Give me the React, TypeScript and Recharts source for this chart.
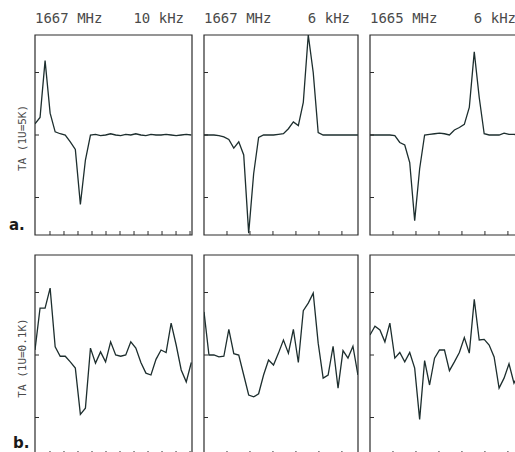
import { LineChart, Line, XAxis, YAxis, ReferenceArea } from 'recharts';

// Spectra, one value per channel, in units of the axis tick (1U)
const oh1667Wide = [
  0.18, 0.28, 1.19, 0.35, 0.05, 0.02, 0.0, -0.11, -0.23, -1.11, -0.4, 0.0, 0.01, -0.01, 0.0, 0.02,
  0.0, -0.01, 0.01, 0.0, 0.02, 0.0, -0.01, 0.01, 0.0, 0.0, 0.01, 0.0, -0.01, 0.0, 0.01, 0.0,
];
const oh1667 = [
  0, 0, 0, -0.01, -0.03, -0.07, -0.21, -0.11, -0.32, -1.57, -0.62, -0.04, 0, 0, 0, 0.01,
  0.02, 0.1, 0.21, 0.15, 0.52, 1.6, 1.0, 0.04, 0, 0, 0, 0, 0, 0, 0, 0,
];
const oh1665 = [
  0, 0, 0, 0, 0, -0.01, -0.12, -0.16, -0.44, -1.37, -0.54, 0, 0.01, 0.02, 0.03, 0.02,
  0, 0.08, 0.12, 0.17, 0.44, 1.33, 0.6, 0.02, 0, 0, 0, 0.03, 0.01, 0.01, 0, 0,
];
const weak1667Wide = [
  0.08, 0.75, 0.75, 1.07, 0.13, -0.02, -0.02, -0.11, -0.21, -0.95, -0.85, 0.11, -0.13, 0.05, -0.11, 0.21,
  0, -0.02, 0, 0.21, 0.11, -0.12, -0.29, -0.32, -0.07, 0.08, 0.04, 0.51, 0.16, -0.24, -0.43, -0.12,
];
const weak1667 = [
  0.69, 0, 0, -0.03, -0.02, 0.41, 0.02, 0, -0.32, -0.64, -0.67, -0.62, -0.32, -0.08, -0.16, 0.03,
  0.24, 0.03, 0.41, -0.12, 0.71, 0.83, 0.99, 0.19, -0.37, -0.32, 0.14, -0.53, 0.07, -0.05, 0.14, -0.32,
];
const weak1665 = [
  0.32, 0.46, 0.4, 0.21, 0.51, -0.05, 0.04, -0.11, 0.04, -0.21, -1.03, -0.09, -0.48, -0.05, 0.08, 0.08,
  -0.25, -0.11, 0.04, 0.28, 0.03, 0.89, 0.24, 0.25, 0.16, -0.03, -0.53, -0.37, -0.14, -0.45, -0.3, -0.2,
];

const titles = [
  ['1667 MHz', '10 kHz'],
  ['1667 MHz', '6 kHz'],
  ['1665 MHz', '6 kHz'],
];
const rowLabels = ['a.', 'b.'];
const unitLabels = ['TA (1U=5K)', 'TA (1U=0.1K)'];

const wideTicks = [0, 1, 2, 3, 4, 5, 6, 7, 8, 9, 10];
const narrowTicks = [1, 2, 3, 4, 5, 6];
const yTicks = [-1, 0, 1];

// channel grids for the two resolutions
const WIDE = { start: -1.07, step: 0.36, domain: [-1.07, 10.14], ticks: wideTicks };
const NARROW = { start: 0, step: 0.216, domain: [0, 6.7], ticks: narrowTicks };
const Y_DOMAIN: [number, number] = [-1.6, 1.6];

const LINE = '#1d2e2e';
const FRAME = '#2c2c2c';
const TEXT = '#4a4a4a';

type Grid = typeof WIDE;

const blank = () => '';

function Panel({ values, grid, left, top, width }: { values: number[]; grid: Grid; left: number; top: number; width: number }) {
  const data = values.map((y, i) => ({ x: grid.start + i * grid.step, y }));
  const [x1, x2] = grid.domain;
  return (
    <div style={{ position: 'absolute', left: left - 2, top: top - 2 }}>
      <LineChart width={width + 4} height={204} data={data} margin={{ top: 2, right: 2, bottom: 2, left: 2 }}>
        <XAxis
          type="number"
          dataKey="x"
          domain={grid.domain}
          ticks={grid.ticks}
          interval={0}
          allowDataOverflow
          mirror
          tickSize={4}
          axisLine={false}
          stroke={FRAME}
          tickLine={{ stroke: FRAME, strokeWidth: 1 }}
          tickFormatter={blank}
        />
        <YAxis
          type="number"
          domain={Y_DOMAIN}
          ticks={yTicks}
          interval={0}
          allowDataOverflow
          mirror
          tickSize={4}
          axisLine={false}
          stroke={FRAME}
          tickLine={{ stroke: FRAME, strokeWidth: 1 }}
          tickFormatter={blank}
        />
        <ReferenceArea x1={x1} x2={x2} y1={Y_DOMAIN[0]} y2={Y_DOMAIN[1]} fill="none" stroke={FRAME} strokeWidth={1.2} />
        <Line type="linear" dataKey="y" stroke={LINE} strokeWidth={1.3} dot={false} isAnimationActive={false} />
      </LineChart>
    </div>
  );
}

const cols = [
  { left: 35, width: 157, grid: WIDE },
  { left: 204, width: 154, grid: NARROW },
  { left: 370, width: 154, grid: NARROW },
];
const rows = [
  { top: 35, series: [oh1667Wide, oh1667, oh1665] },
  { top: 255, series: [weak1667Wide, weak1667, weak1665] },
];

export default function App() {
  return (
    <div style={{ position: 'absolute', left: 0, top: 0, width: 515, height: 452, overflow: 'hidden', background: '#fff' }}>
      {rows.map((row, r) =>
        cols.map((col, c) => (
          <Panel key={`${r}-${c}`} values={row.series[c]} grid={col.grid} left={col.left} top={row.top} width={col.width} />
        ))
      )}
      <svg width={515} height={452} style={{ position: 'absolute', left: 0, top: 0, pointerEvents: 'none' }}>
        {/* panel headers */}
        {cols.map((col, c) => (
          <g key={c} fontFamily="DejaVu Sans Mono" fontSize={14} fill={TEXT}>
            <text x={col.left} y={23}>{titles[c][0]}</text>
            <text x={col.left + col.width - 8} y={23} textAnchor="end">{titles[c][1]}</text>
          </g>
        ))}
        {/* row labels and y units */}
        {rows.map((row, r) => (
          <g key={r}>
            <text x={9 + r * 4} y={row.top + 195 - r * 2} fontFamily="DejaVu Sans" fontWeight="bold" fontSize={15} fill="#1a1a1a">
              {rowLabels[r]}
            </text>
            <text
              x={26}
              y={row.top + 103}
              transform={`rotate(-90 26 ${row.top + 103})`}
              textAnchor="middle"
              fontFamily="DejaVu Sans Mono"
              fontSize={11}
              fill={TEXT}
            >
              {unitLabels[r]}
            </text>
          </g>
        ))}
      </svg>
    </div>
  );
}
